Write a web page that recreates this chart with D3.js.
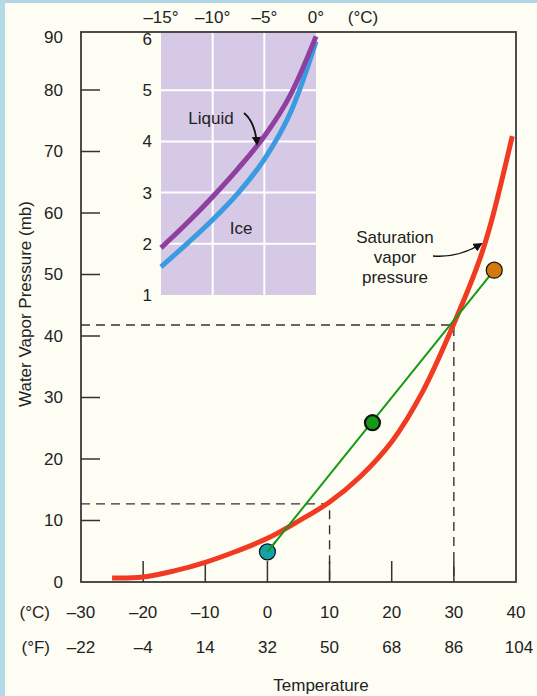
<!DOCTYPE html>
<html>
<head>
<meta charset="utf-8">
<script src="https://cdn.jsdelivr.net/npm/d3@7"></script>
<style>
  html, body { margin: 0; padding: 0; background: #fdfdf4; }
  svg { display: block; font-family: "Liberation Sans", Arial, Helvetica, sans-serif; }
</style>
</head>
<body>
<div id="chart"></div>
<script>
// ---------------- DATA ----------------
const tempCTicks = [-30, -20, -10, 0, 10, 20, 30, 40];
const tempFTicks = [-22, -4, 14, 32, 50, 68, 86, 104];
const pressureTicks = [0, 10, 20, 30, 40, 50, 60, 70, 80, 90];
const tickMarkC = [-20, -10, 0, 10, 20, 30];
const tickMarkP = [10, 20, 30, 40, 50, 60, 70, 80];

// saturation vapor pressure curve
const satT = [-25, -20, -15, -10, -5, 0, 5, 10, 15, 20, 25, 30, 34, 36, 39.4];
const satP = [0.65, 0.8, 1.8, 3.2, 5.0, 7.1, 9.9, 13.0, 17.2, 22.8, 31.0, 42.0, 52.0, 58.5, 72.5];

// air parcels
const dotT = [0, 16.9, 36.5];
const dotP = [4.9, 25.9, 50.7];
const dotColors = ["#17a0a6", "#139a16", "#d27a0e"];

// dashed reference lines
const refT = [10, 30];
const refP = [12.7, 41.8];

// inset (below freezing)
const insetTTicks = [-15, -10, -5, 0];
const insetPTicks = [1, 2, 3, 4, 5, 6];
const liquidT = [-15, -12.5, -10, -7.5, -5, -2.5, 0];
const liquidP = [1.92, 2.4, 2.92, 3.48, 4.1, 4.9, 6.05];
const iceT = [-15, -12.5, -10, -7.5, -5, -2.5, 0];
const iceP = [1.55, 2.0, 2.47, 3.0, 3.65, 4.55, 5.95];

// ---------------- LAYOUT ----------------
const W = 537, H = 696;
const plot = { left: 81, right: 516, top: 32, bottom: 582 };
const inset = { left: 161, right: 316, p1: 295, p6: 39 };

const svg = d3.select("#chart").append("svg").attr("width", W).attr("height", H);

// background
svg.append("rect").attr("width", W).attr("height", H).attr("fill", "#fdfdf4");
svg.append("rect").attr("x", 0).attr("y", 0).attr("width", W).attr("height", 3).attr("fill", "#b1d5e2");
svg.append("rect").attr("x", 0).attr("y", 0).attr("width", 5).attr("height", H).attr("fill", "#b4dae8");

const x = d3.scaleLinear().domain([-30, 40]).range([plot.left, plot.right]);
const y = d3.scaleLinear().domain([0, 80]).range([plot.bottom, 90]);
const xi = d3.scaleLinear().domain([-15, 0]).range([inset.left, inset.right]);
const yi = d3.scaleLinear().domain([1, 6]).range([inset.p1, inset.p6]);

const textColor = "#222";
const fs = 17;

// ---------- inset ----------
svg.append("rect")
  .attr("x", xi(-15)).attr("y", plot.top)
  .attr("width", xi(0) - xi(-15)).attr("height", yi(1) - plot.top)
  .attr("fill", "#d6c9e5");
const ig = svg.append("g");
ig.selectAll("line.iv").data(insetTTicks.slice(1, 3)).join("line")
  .attr("x1", d => xi(d)).attr("x2", d => xi(d))
  .attr("y1", plot.top).attr("y2", yi(1))
  .attr("stroke", "#fff").attr("stroke-width", 2);
ig.selectAll("line.ih").data(insetPTicks.slice(1, 5)).join("line")
  .attr("x1", xi(-15)).attr("x2", xi(0))
  .attr("y1", d => yi(d)).attr("y2", d => yi(d))
  .attr("stroke", "#fff").attr("stroke-width", 2);

const lineI = d3.line().x(d => xi(d[0])).y(d => yi(d[1])).curve(d3.curveCatmullRom.alpha(0.5));
ig.append("path").datum(iceT.map((t, i) => [t, iceP[i]]))
  .attr("d", lineI).attr("fill", "none").attr("stroke", "#3b9be0").attr("stroke-width", 5);
ig.append("path").datum(liquidT.map((t, i) => [t, liquidP[i]]))
  .attr("d", lineI).attr("fill", "none").attr("stroke", "#8e3f9f").attr("stroke-width", 5);

ig.selectAll("text.ipy").data(insetPTicks).join("text")
  .attr("x", xi(-15) - 9).attr("y", d => yi(d)).attr("dy", "0.35em")
  .attr("text-anchor", "end").attr("font-size", fs).attr("fill", textColor)
  .text(d => d);
ig.selectAll("text.ipx").data(insetTTicks).join("text")
  .attr("x", d => xi(d)).attr("y", 23)
  .attr("text-anchor", "middle").attr("font-size", fs).attr("fill", textColor)
  .text(d => (d < 0 ? "\u2013" + Math.abs(d) : d) + "\u00B0");
svg.append("text").attr("x", 363).attr("y", 23).attr("text-anchor", "middle")
  .attr("font-size", fs).attr("fill", textColor).text("(\u00B0C)");

svg.append("text").attr("x", 211).attr("y", 118).attr("dy", "0.35em").attr("text-anchor", "middle")
  .attr("font-size", fs).attr("fill", textColor).text("Liquid");
svg.append("text").attr("x", 241).attr("y", 228).attr("dy", "0.35em").attr("text-anchor", "middle")
  .attr("font-size", fs).attr("fill", textColor).text("Ice");

// arrow marker
const defs = svg.append("defs");
defs.append("marker").attr("id", "ah").attr("viewBox", "0 0 10 10")
  .attr("refX", 8).attr("refY", 5).attr("markerWidth", 9).attr("markerHeight", 9)
  .attr("markerUnits", "userSpaceOnUse").attr("orient", "auto")
  .append("path").attr("d", "M0,0 L10,5 L0,10 Z").attr("fill", "#111");

svg.append("path").attr("d", "M244,113 Q255,122 257,144")
  .attr("fill", "none").attr("stroke", "#111").attr("stroke-width", 1.8)
  .attr("marker-end", "url(#ah)");

// ---------- main frame ----------
svg.append("rect").attr("x", plot.left).attr("y", plot.top)
  .attr("width", plot.right - plot.left).attr("height", plot.bottom - plot.top)
  .attr("fill", "none").attr("stroke", "#3a3a3a").attr("stroke-width", 1.8);

// y tick marks (inward)
svg.selectAll("line.yt").data(tickMarkP).join("line")
  .attr("x1", plot.left).attr("x2", plot.left + 19)
  .attr("y1", d => y(d)).attr("y2", d => y(d))
  .attr("stroke", "#333").attr("stroke-width", 1.5);
// x tick marks (upward)
svg.selectAll("line.xt").data(tickMarkC).join("line")
  .attr("x1", d => x(d)).attr("x2", d => x(d))
  .attr("y1", plot.bottom).attr("y2", plot.bottom - 21)
  .attr("stroke", "#333").attr("stroke-width", 1.5);

// y labels
svg.selectAll("text.yl").data(pressureTicks).join("text")
  .attr("x", 63).attr("y", d => Math.max(y(d), plot.top + 5)).attr("dy", "0.35em")
  .attr("text-anchor", "end").attr("font-size", fs).attr("fill", textColor)
  .text(d => d);

// x labels
svg.selectAll("text.xc").data(tempCTicks).join("text")
  .attr("x", d => x(d)).attr("y", 618).attr("text-anchor", "middle")
  .attr("font-size", fs).attr("fill", textColor)
  .text(d => d < 0 ? "\u2013" + Math.abs(d) : d);
svg.selectAll("text.xf").data(tempFTicks).join("text")
  .attr("x", (d, i) => x(tempCTicks[i]) + (i === tempFTicks.length - 1 ? 3 : 0)).attr("y", 653).attr("text-anchor", "middle")
  .attr("font-size", fs).attr("fill", textColor)
  .text(d => d < 0 ? "\u2013" + Math.abs(d) : d);
svg.append("text").attr("x", 50).attr("y", 618).attr("text-anchor", "end")
  .attr("font-size", fs).attr("fill", textColor).text("(\u00B0C)");
svg.append("text").attr("x", 50).attr("y", 653).attr("text-anchor", "end")
  .attr("font-size", fs).attr("fill", textColor).text("(\u00B0F)");

svg.append("text").attr("x", 321).attr("y", 691).attr("text-anchor", "middle")
  .attr("font-size", fs).attr("fill", textColor).text("Temperature");
svg.append("text").attr("transform", "translate(31,304) rotate(-90)")
  .attr("text-anchor", "middle").attr("font-size", fs).attr("fill", textColor)
  .text("Water Vapor Pressure (mb)");

// dashed reference lines
refT.forEach((t, i) => {
  svg.append("path")
    .attr("d", `M${plot.left},${y(refP[i])} H${x(t)} V${plot.bottom}`)
    .attr("fill", "none").attr("stroke", "#333").attr("stroke-width", 1.4)
    .attr("stroke-dasharray", "9,6");
});

// saturation curve
const lineS = d3.line().x(d => x(d[0])).y(d => y(d[1])).curve(d3.curveCatmullRom.alpha(0.5));
svg.append("path").datum(satT.map((t, i) => [t, satP[i]]))
  .attr("d", lineS).attr("fill", "none").attr("stroke", "#f03a22").attr("stroke-width", 5);

// green connecting line
svg.append("line")
  .attr("x1", x(dotT[0])).attr("y1", y(dotP[0]))
  .attr("x2", x(dotT[2])).attr("y2", y(dotP[2]))
  .attr("stroke", "#159a15").attr("stroke-width", 2);

// dots
svg.selectAll("circle.dot").data(dotT).join("circle")
  .attr("cx", d => x(d)).attr("cy", (d, i) => y(dotP[i]))
  .attr("r", (d, i) => i === 1 ? 7.5 : 8)
  .attr("fill", (d, i) => dotColors[i])
  .attr("stroke", "#111").attr("stroke-width", (d, i) => i === 1 ? 2.2 : 1.2);
// line end visible inside the cyan dot
svg.append("line")
  .attr("x1", x(dotT[0])).attr("y1", y(dotP[0]))
  .attr("x2", x(dotT[0]) + 8).attr("y2", y(dotP[0]) - 10)
  .attr("stroke", "#159a15").attr("stroke-width", 2);

// saturation label
const satLabel = ["Saturation", "vapor", "pressure"];
svg.selectAll("text.sl").data(satLabel).join("text")
  .attr("x", 395).attr("y", (d, i) => 237 + i * 20).attr("dy", "0.35em")
  .attr("text-anchor", "middle").attr("font-size", fs).attr("fill", textColor)
  .text(d => d);
svg.append("path").attr("d", "M433,256 Q458,258 481,244")
  .attr("fill", "none").attr("stroke", "#111").attr("stroke-width", 1.4)
  .attr("marker-end", "url(#ah)");
</script>
</body>
</html>
